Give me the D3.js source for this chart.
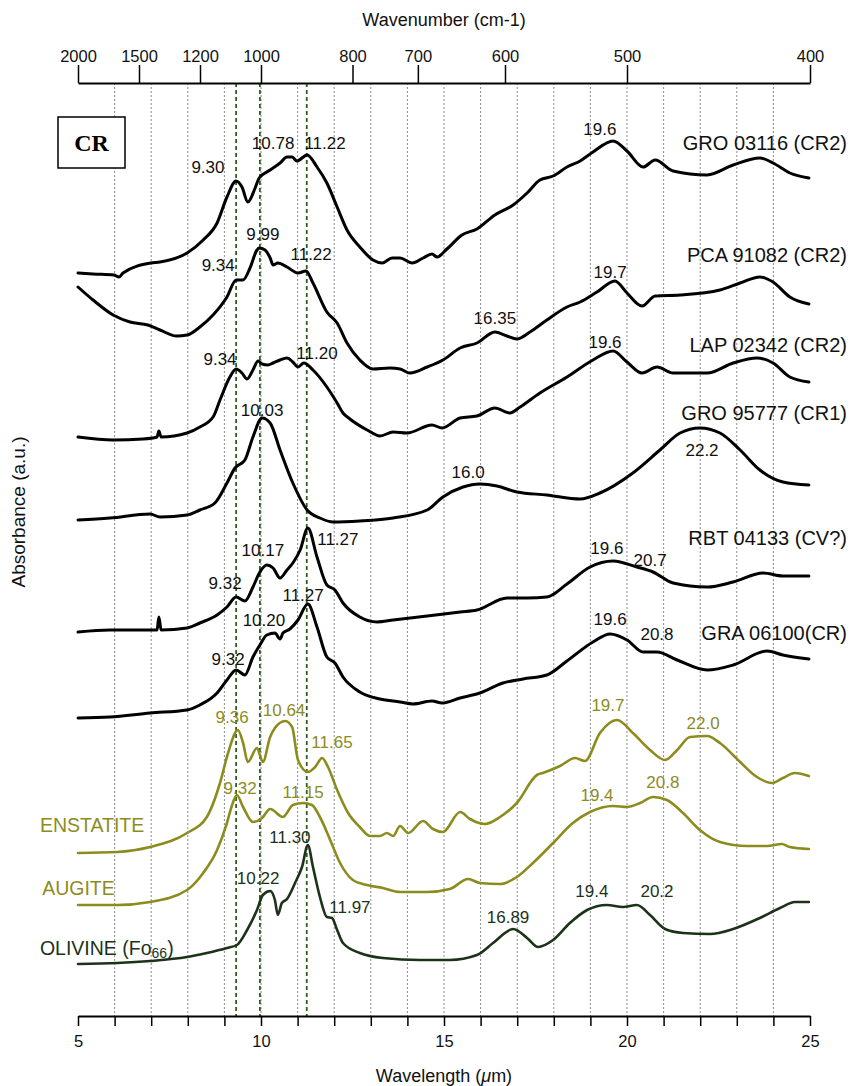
<!DOCTYPE html>
<html><head><meta charset="utf-8">
<script src="https://cdn.jsdelivr.net/npm/d3@7"></script>
<style>
html,body{margin:0;padding:0;background:#fff;}
svg{display:block;font-family:"Liberation Sans",Arial,sans-serif;}
</style></head>
<body><svg id="c" width="856" height="1086"></svg>
<script>
// ---------------- DATA ----------------
// wavelength (µm), absorbance (a.u., offset stacked)
const GRO03116 = [[5.00,74.3],[5.41,74.2],[5.98,74.1],[6.12,73.9],[6.23,74.3],[6.99,75.3],[7.24,75.4],[7.98,76.3],[8.42,77.6],[8.80,79.3],[9.07,81.9],[9.32,83.5],[9.48,82.9],[9.64,81.4],[9.84,82.8],[9.95,83.8],[10.25,84.6],[10.52,85.3],[10.71,85.9],[10.85,85.9],[10.98,85.5],[11.26,86.1],[11.53,84.9],[11.80,83.3],[12.08,80.9],[12.35,78.6],[12.70,76.9],[13.06,75.6],[13.31,75.3],[13.58,75.8],[13.80,75.8],[14.13,75.3],[14.43,75.8],[14.67,76.2],[14.81,75.9],[15.08,76.7],[15.49,78.1],[15.90,78.7],[16.39,80.1],[16.89,81.1],[17.27,82.3],[17.62,83.6],[17.98,84.0],[18.36,84.9],[18.72,85.5],[19.07,86.4],[19.62,87.5],[20.00,86.5],[20.44,84.9],[20.77,85.6],[21.26,84.5],[22.19,84.1],[22.90,85.1],[23.63,85.8],[23.99,85.3],[24.45,84.3],[24.97,83.8]];
const PCA91082 = [[5.00,72.9],[5.41,71.6],[5.96,70.1],[6.42,69.4],[6.91,69.1],[7.24,68.6],[7.70,68.0],[7.98,68.1],[8.33,68.9],[8.69,70.1],[9.07,71.9],[9.32,73.6],[9.51,73.6],[9.70,74.8],[9.89,76.6],[9.95,76.8],[10.11,76.6],[10.25,75.8],[10.33,75.1],[10.46,75.3],[10.71,74.9],[11.01,74.3],[11.23,74.5],[11.42,73.3],[11.80,70.4],[12.08,69.3],[12.35,67.3],[12.70,65.6],[13.06,64.7],[13.52,64.8],[13.80,64.7],[14.07,64.3],[14.54,64.9],[14.97,65.6],[15.44,66.8],[15.90,67.3],[16.39,68.4],[16.72,68.0],[16.99,67.7],[17.35,68.4],[17.81,69.6],[18.36,70.9],[18.72,71.4],[19.18,72.4],[19.67,73.5],[20.00,72.3],[20.41,71.0],[20.77,72.0],[21.45,72.1],[22.54,72.6],[23.09,73.3],[23.63,73.9],[23.99,73.4],[24.45,71.9],[24.97,71.2]];
const LAP02342 = [[5.00,57.9],[5.96,57.6],[6.78,57.7],[7.16,57.9],[7.21,58.5],[7.27,57.9],[7.98,58.3],[8.33,58.9],[8.69,59.9],[8.88,61.6],[9.15,63.9],[9.32,64.7],[9.48,64.3],[9.62,63.7],[9.78,64.6],[9.92,65.5],[10.03,65.2],[10.19,65.1],[10.33,65.3],[10.52,65.6],[10.71,65.8],[10.87,65.4],[11.01,64.9],[11.17,65.3],[11.42,64.6],[11.80,62.9],[12.08,61.3],[12.24,60.3],[12.43,59.7],[12.90,58.6],[13.25,58.0],[13.61,58.4],[13.99,58.3],[14.67,59.1],[14.95,58.8],[15.44,59.8],[15.90,60.0],[16.39,60.8],[16.80,60.3],[17.08,60.9],[17.62,62.3],[18.36,63.9],[19.07,65.6],[19.62,66.5],[20.00,65.4],[20.41,64.3],[20.82,64.9],[21.26,64.3],[22.19,64.3],[22.90,65.3],[23.55,65.8],[23.99,65.3],[24.45,63.9],[24.97,63.4]];
const GRO95777 = [[5.00,49.6],[5.87,49.8],[6.97,50.2],[7.24,49.9],[7.98,50.1],[8.33,50.6],[8.74,51.3],[9.07,53.3],[9.29,54.8],[9.56,55.6],[9.78,57.9],[10.03,59.8],[10.25,59.3],[10.52,56.6],[10.87,53.3],[11.26,50.6],[11.61,49.8],[11.97,49.4],[12.70,49.5],[13.61,49.8],[14.54,50.6],[14.97,51.9],[15.52,52.9],[15.98,53.2],[16.45,53.0],[16.99,52.4],[17.81,52.1],[18.72,51.7],[19.26,52.3],[20.16,54.3],[20.90,56.6],[21.45,58.3],[21.99,58.8],[22.54,58.3],[23.09,56.6],[23.63,54.6],[24.26,53.4],[24.97,53.1]];
const RBT04133 = [[5.00,38.4],[5.87,38.6],[7.05,38.6],[7.16,38.6],[7.21,39.9],[7.27,38.6],[7.98,38.8],[8.33,39.3],[8.80,40.1],[9.07,40.9],[9.32,41.9],[9.56,41.5],[9.78,42.9],[9.97,44.4],[10.16,45.1],[10.33,44.8],[10.52,43.8],[10.71,44.6],[10.87,45.3],[11.07,46.6],[11.28,48.8],[11.53,45.9],[11.80,43.1],[12.02,42.6],[12.24,41.3],[12.70,39.9],[13.17,39.4],[13.61,39.6],[14.54,40.0],[15.44,40.4],[15.90,40.6],[16.72,41.8],[17.27,41.8],[17.81,41.9],[18.36,43.2],[18.99,44.9],[19.62,45.5],[20.27,44.9],[20.71,44.4],[21.26,43.3],[22.19,42.9],[22.90,43.4],[23.72,44.3],[24.26,44.0],[24.97,44.0]];
const GRA06100 = [[5.00,29.8],[5.87,29.9],[6.97,30.3],[7.98,30.6],[8.33,31.1],[8.80,32.3],[9.07,33.6],[9.32,34.6],[9.56,34.1],[9.78,35.9],[9.97,37.1],[10.16,38.1],[10.38,38.3],[10.52,37.7],[10.60,38.3],[10.79,38.7],[11.01,39.6],[11.28,41.2],[11.53,38.9],[11.80,35.9],[12.02,35.3],[12.24,33.9],[12.70,32.4],[13.25,31.7],[13.80,31.4],[14.15,31.2],[14.67,31.5],[14.95,31.3],[15.44,31.8],[15.98,32.3],[16.61,33.3],[17.16,33.7],[17.81,34.1],[18.36,35.5],[19.07,37.4],[19.54,38.2],[20.00,37.6],[20.44,36.4],[20.82,36.4],[21.37,35.6],[22.19,34.6],[22.90,35.1],[23.83,36.5],[24.26,36.1],[24.97,35.7]];
const ENSTATITE = [[5.00,16.3],[6.07,16.4],[6.97,16.9],[7.98,18.3],[8.52,19.9],[8.88,23.3],[9.10,26.3],[9.37,28.6],[9.51,27.3],[9.64,25.4],[9.89,26.8],[10.05,25.4],[10.25,27.9],[10.38,28.8],[10.66,29.5],[10.85,28.9],[11.01,25.6],[11.28,24.4],[11.48,24.9],[11.67,25.8],[11.83,24.9],[12.08,22.6],[12.38,20.3],[12.70,18.9],[12.98,18.0],[13.25,18.0],[13.44,18.3],[13.61,18.0],[13.80,19.0],[14.02,18.3],[14.43,19.5],[14.70,18.7],[14.97,18.4],[15.44,20.4],[15.71,19.7],[16.12,19.2],[16.53,19.9],[16.99,21.3],[17.54,24.1],[17.70,24.3],[18.17,25.0],[18.58,25.8],[18.85,25.5],[19.26,28.3],[19.73,29.6],[20.16,28.3],[20.63,26.6],[21.04,25.6],[21.37,26.6],[21.72,27.9],[22.19,28.0],[22.54,27.3],[23.09,25.4],[23.55,23.9],[23.96,23.3],[24.26,23.8],[24.59,24.3],[24.97,24.0]];
const AUGITE = [[5.00,11.1],[6.07,11.1],[6.97,11.4],[7.98,12.6],[8.42,14.3],[8.80,16.6],[9.07,19.3],[9.21,21.1],[9.34,22.1],[9.51,20.9],[9.78,19.4],[10.03,19.8],[10.25,20.7],[10.60,19.9],[10.87,21.1],[11.15,21.3],[11.39,21.1],[11.61,19.9],[11.89,17.6],[12.16,15.3],[12.51,13.6],[12.90,13.1],[13.33,12.8],[13.80,12.4],[14.54,12.4],[15.16,12.7],[15.66,13.7],[15.98,13.3],[16.53,13.2],[16.99,13.9],[17.43,15.3],[17.98,17.3],[18.52,19.3],[18.99,20.4],[19.62,21.0],[20.00,20.9],[20.36,21.3],[20.71,21.9],[21.09,21.6],[21.53,20.3],[21.99,18.6],[22.54,17.4],[23.28,17.0],[23.83,17.0],[24.23,17.2],[24.45,16.9],[24.97,16.7]];
const OLIVINE = [[5.00,5.2],[6.07,5.3],[6.97,5.5],[7.98,5.9],[8.52,6.3],[9.07,6.8],[9.34,7.1],[9.62,8.6],[9.89,10.6],[10.05,12.1],[10.25,12.5],[10.38,11.6],[10.46,10.1],[10.57,11.3],[10.71,11.7],[10.93,13.3],[11.12,14.9],[11.28,17.1],[11.42,14.9],[11.61,11.9],[11.80,9.9],[11.94,9.8],[12.08,8.6],[12.24,7.3],[12.70,6.3],[13.33,5.8],[14.34,5.6],[15.16,5.6],[15.90,6.1],[16.34,7.3],[16.89,8.7],[17.27,7.8],[17.57,6.9],[17.98,7.6],[18.44,9.3],[18.91,10.6],[19.45,11.1],[19.89,10.9],[20.27,11.1],[20.63,10.1],[21.04,8.7],[21.53,8.3],[22.27,8.2],[22.90,8.7],[23.63,9.8],[24.18,10.8],[24.59,11.4],[24.97,11.4]];

const seriesNames = ["GRO 03116 (CR2)","PCA 91082 (CR2)","LAP 02342 (CR2)","GRO 95777 (CR1)","RBT 04133 (CV?)","GRA 06100(CR)","ENSTATITE","AUGITE","OLIVINE"];
const seriesData = [GRO03116,PCA91082,LAP02342,GRO95777,RBT04133,GRA06100,ENSTATITE,AUGITE,OLIVINE];
// name label anchor [wavelength, absorbance]
const nameAnchors = [[26.01,87.3],[26.01,76.1],[26.01,67.1],[26.01,60.3],[26.01,47.8],[26.01,38.3],[3.96,19.1],[4.02,12.8],[3.96,6.8]];

// peak annotations: [series index, text, wavelength, absorbance]
const peakLabels = [
 [0,"9.30",8.55,84.9],[0,"10.78",10.33,87.3],[0,"11.22",11.75,87.3],[0,"19.6",19.26,88.7],
 [1,"9.34",8.83,75.1],[1,"9.99",10.05,78.2],[1,"11.22",11.37,76.2],[1,"16.35",16.39,69.8],[1,"19.7",19.54,74.4],
 [2,"9.34",8.88,65.7],[2,"11.20",11.53,66.3],[2,"19.6",19.40,67.4],
 [3,"10.03",10.03,60.6],[3,"16.0",15.66,54.4],[3,"22.2",22.05,56.6],
 [4,"9.32",9.02,43.3],[4,"10.17",10.05,46.6],[4,"11.27",12.10,47.7],[4,"19.6",19.45,46.8],[4,"20.7",20.63,45.6],
 [5,"9.32",9.10,35.7],[5,"10.20",10.08,39.6],[5,"11.27",11.15,42.1],[5,"19.6",19.54,39.7],[5,"20.8",20.82,38.2],
 [6,"9.36",9.21,29.9],[6,"10.64",10.63,30.6],[6,"11.65",11.94,27.4],[6,"19.7",19.48,31.1],[6,"22.0",22.08,29.3],
 [7,"9.32",9.43,22.8],[7,"11.15",11.15,22.4],[7,"19.4",19.18,22.1],[7,"20.8",20.98,23.4],
 [8,"10.22",9.92,13.8],[8,"11.30",10.79,17.9],[8,"11.97",12.43,10.9],[8,"16.89",16.75,9.9],[8,"19.4",19.04,12.5],[8,"20.2",20.82,12.5]
];

const refLines = [9.32, 9.97, 11.25];          // green dashed reference wavelengths
const gridWavelengths = d3.range(6, 25);        // dotted grid
const bottomTicks = d3.range(5, 26);
const bottomLabels = [5, 10, 15, 20, 25];
const topWavenumbers = [2000, 1500, 1200, 1000, 800, 700, 600, 500, 400];

// ---------------- STYLE ----------------
const colors = ["#000","#000","#000","#000","#000","#000","#8c8c1e","#8c8c1e","#1c3219"];
const labelColors = ["#111","#111","#111","#111","#111","#111","#8c8c1e","#8c8c1e","#1c3219"];

const svg = d3.select("#c");
const x = d3.scaleLinear().domain([5, 25]).range([78, 810]);
const y = d3.scaleLinear().domain([0, 93]).range([1016, 86]);
const yTop = 83, yBot = 1016;

// grid
svg.append("g").selectAll("line").data(gridWavelengths).join("line")
  .attr("x1", d => x(d)).attr("x2", d => x(d)).attr("y1", yTop).attr("y2", yBot)
  .attr("stroke", "#8a8a8a").attr("stroke-width", 1).attr("stroke-dasharray", "2,2");

// reference lines
svg.append("g").selectAll("line").data(refLines).join("line")
  .attr("x1", d => x(d)).attr("x2", d => x(d)).attr("y1", yTop).attr("y2", yBot)
  .attr("stroke", "#2f5f1f").attr("stroke-width", 1.8).attr("stroke-dasharray", "4,3");

// axes
const bottomAx = svg.append("g").attr("transform", `translate(0,${yBot})`)
  .call(d3.axisBottom(x).tickValues(bottomTicks).tickSize(10).tickSizeOuter(0)
    .tickFormat(d => bottomLabels.includes(d) ? d : ""));
bottomAx.select(".domain").attr("stroke", "#000").attr("stroke-width", 2);
bottomAx.selectAll(".tick line").attr("stroke", "#000").attr("stroke-width", 1.5);
bottomAx.selectAll(".tick text").attr("font-size", 16.5).attr("dy", "1.1em").attr("fill", "#111");

const topAx = svg.append("g").attr("transform", `translate(0,${yTop})`)
  .call(d3.axisTop(x).tickValues(topWavenumbers.map(w => 10000 / w)).tickSize(18).tickSizeOuter(0)
    .tickFormat(d => Math.round(10000 / d)));
topAx.select(".domain").attr("stroke", "#000").attr("stroke-width", 2);
topAx.selectAll(".tick line").attr("stroke", "#000").attr("stroke-width", 1.5);
topAx.selectAll(".tick text").attr("font-size", 16.5).attr("fill", "#111");

svg.append("text").attr("x", 444).attr("y", 26).attr("text-anchor", "middle")
  .attr("font-size", 18).attr("fill", "#111").text("Wavenumber (cm-1)");
const bt = svg.append("text").attr("x", 444).attr("y", 1082).attr("text-anchor", "middle")
  .attr("font-size", 18).attr("fill", "#111");
bt.append("tspan").text("Wavelength (");
bt.append("tspan").attr("font-style", "italic").text("μ");
bt.append("tspan").text("m)");
svg.append("text").attr("transform", "translate(25,512) rotate(-90)").attr("text-anchor", "middle")
  .attr("font-size", 19).attr("fill", "#111").text("Absorbance (a.u.)");

// CR box
svg.append("rect").attr("x", 58).attr("y", 117).attr("width", 67).attr("height", 51)
  .attr("fill", "#fff").attr("stroke", "#000").attr("stroke-width", 1.5);
svg.append("text").attr("x", 91.5).attr("y", 151).attr("text-anchor", "middle")
  .attr("font-family", "'Liberation Serif','Times New Roman',serif").attr("font-weight", "bold")
  .attr("font-size", 24).text("CR");

// curves
const line = d3.line().x(d => x(d[0])).y(d => y(d[1])).curve(d3.curveMonotoneX);
svg.append("g").selectAll("path").data(seriesData).join("path")
  .attr("d", line).attr("fill", "none")
  .attr("stroke", (d, i) => colors[i]).attr("stroke-width", (d, i) => i < 6 ? 3 : 2.6)
  .attr("stroke-linejoin", "round").attr("stroke-linecap", "round");

// peak labels
svg.append("g").selectAll("text").data(peakLabels).join("text")
  .attr("x", d => x(d[2])).attr("y", d => y(d[3])).attr("text-anchor", "middle")
  .attr("dominant-baseline", "central").attr("font-size", 17)
  .attr("fill", d => labelColors[d[0]]).text(d => d[1]);

// series names
seriesNames.forEach((n, i) => {
  const a = nameAnchors[i];
  const t = svg.append("text").attr("x", x(a[0])).attr("y", y(a[1]))
    .attr("dominant-baseline", "central")
    .attr("text-anchor", i < 6 ? "end" : "start")
    .attr("font-size", i < 6 ? 20 : 19.5).attr("fill", labelColors[i]);
  if (n === "OLIVINE") {
    t.append("tspan").text("OLIVINE (Fo");
    t.append("tspan").attr("font-size", 14).attr("dy", 5).text("66");
    t.append("tspan").attr("dy", -5).text(")");
  } else t.text(n);
});
</script></body></html>
